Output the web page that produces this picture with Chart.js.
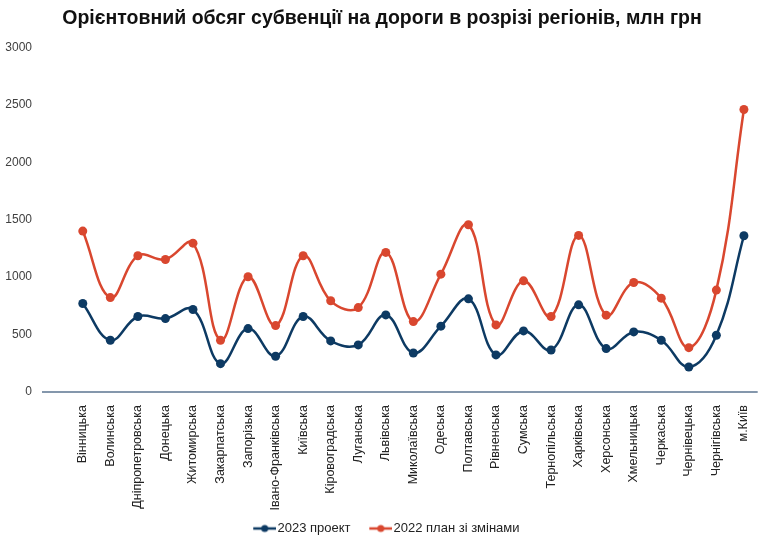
<!DOCTYPE html>
<html>
<head>
<meta charset="utf-8">
<script src="https://cdn.jsdelivr.net/npm/chart.js@4"></script>
<style>
  html, body { margin: 0; padding: 0; background: #fff; }
  #wrap { width: 764px; height: 550px; }
</style>
</head>
<body>
<div id="wrap"><canvas id="graph"></canvas></div>
<script>
const regions = ['Вінницька', 'Волинська', 'Дніпропетровська', 'Донецька', 'Житомирська',
  'Закарпатська', 'Запорізька', 'Івано-Франківська', 'Київська', 'Кіровоградська',
  'Луганська', 'Львівська', 'Миколаївська', 'Одеська', 'Полтавська', 'Рівненська',
  'Сумська', 'Тернопільська', 'Харківська', 'Херсонська', 'Хмельницька', 'Черкаська',
  'Чернівецька', 'Чернігівська', 'м.Київ']

const project2023 = [770, 451, 657, 639, 718, 247, 552, 311, 657, 445, 410, 671, 340,
  573, 811, 323, 532, 366, 759, 378, 523, 451, 218, 494, 1360]

const plan2022 = [1401, 822, 1186, 1154, 1296, 451, 1003, 578, 1186, 794, 735, 1215, 613,
  1026, 1456, 584, 968, 657, 1363, 669, 953, 817, 386, 887, 2459]

const yTicks = [0, 500, 1000, 1500, 2000, 2500, 3000]

const blue = '#0d3a63'
const red = '#d9472f'

// legend marker: line with a dot, with empty room on the left so items sit apart
function legendMarker(color) {
  let c = document.createElement('canvas')
  c.width = 37
  c.height = 10
  let ctx = c.getContext('2d')
  ctx.strokeStyle = color
  ctx.lineWidth = 2.5
  ctx.beginPath()
  ctx.moveTo(14, 5)
  ctx.lineTo(37, 5)
  ctx.stroke()
  ctx.fillStyle = color
  ctx.beginPath()
  ctx.arc(25.5, 5, 3.5, 0, Math.PI * 2)
  ctx.fill()
  return c
}

// baseline runs a bit further left than the plot area, like the original
const baseline = {
  id: 'baseline',
  afterDraw(chart) {
    const ctx = chart.ctx
    const area = chart.chartArea
    const y0 = chart.scales.y.getPixelForValue(0)
    ctx.save()
    ctx.strokeStyle = '#5b7590'
    ctx.lineWidth = 1.3
    ctx.beginPath()
    ctx.moveTo(area.left - 27, y0)
    ctx.lineTo(area.right, y0)
    ctx.stroke()
    ctx.restore()
  }
}

const graph = new Chart(document.getElementById('graph'), {
  type: 'line',
  data: {
    labels: regions,
    datasets: [{
      label: '2023 проект',
      data: project2023,
      borderColor: blue,
      backgroundColor: blue,
      borderWidth: 2.5,
      pointRadius: 4.5,
      pointBorderWidth: 0,
      tension: 0.4
    }, {
      label: '2022 план зі змінами',
      data: plan2022,
      borderColor: red,
      backgroundColor: red,
      borderWidth: 2.5,
      pointRadius: 4.5,
      pointBorderWidth: 0,
      tension: 0.4
    }]
  },
  plugins: [baseline],
  options: {
    responsive: true,
    maintainAspectRatio: false,
    animation: false,
    layout: { padding: { left: 0, right: 0, top: 0, bottom: 5 } },
    plugins: {
      title: {
        display: true,
        text: 'Орієнтовний обсяг субвенції на дороги в розрізі регіонів, млн грн',
        color: '#111',
        font: { family: 'Liberation Sans', size: 19.5, weight: 'bold' },
        padding: { top: 7, bottom: 17 }
      },
      legend: {
        position: 'bottom',
        labels: {
          color: '#222',
          font: { family: 'Liberation Sans', size: 13 },
          usePointStyle: true,
          pointStyleWidth: 26.5,
          boxHeight: 10,
          padding: 10,
          generateLabels(chart) {
            return chart.data.datasets.map((ds, i) => ({
              text: ds.label,
              pointStyle: legendMarker(ds.borderColor),
              fillStyle: ds.borderColor,
              strokeStyle: ds.borderColor,
              lineWidth: 0,
              fontColor: '#222',
              datasetIndex: i
            }))
          }
        }
      },
      tooltip: { enabled: false }
    },
    scales: {
      x: {
        offset: true,
        grid: { display: false },
        border: { display: false },
        afterFit(scale) { scale.height = 120 },
        ticks: {
          autoSkip: false,
          maxRotation: 90,
          minRotation: 90,
          padding: 5,
          color: '#222',
          font: { family: 'Liberation Sans', size: 12.5 }
        }
      },
      y: {
        min: 0,
        max: 3000,
        grid: { display: false },
        border: { display: false },
        afterFit(scale) { scale.width = 69 },
        afterBuildTicks(scale) { scale.ticks = yTicks.map(v => ({ value: v })) },
        ticks: {
          padding: 29,
          color: '#404040',
          font: { family: 'Liberation Sans', size: 12 },
          callback: v => String(v)
        }
      }
    }
  }
})
</script>
</body>
</html>
